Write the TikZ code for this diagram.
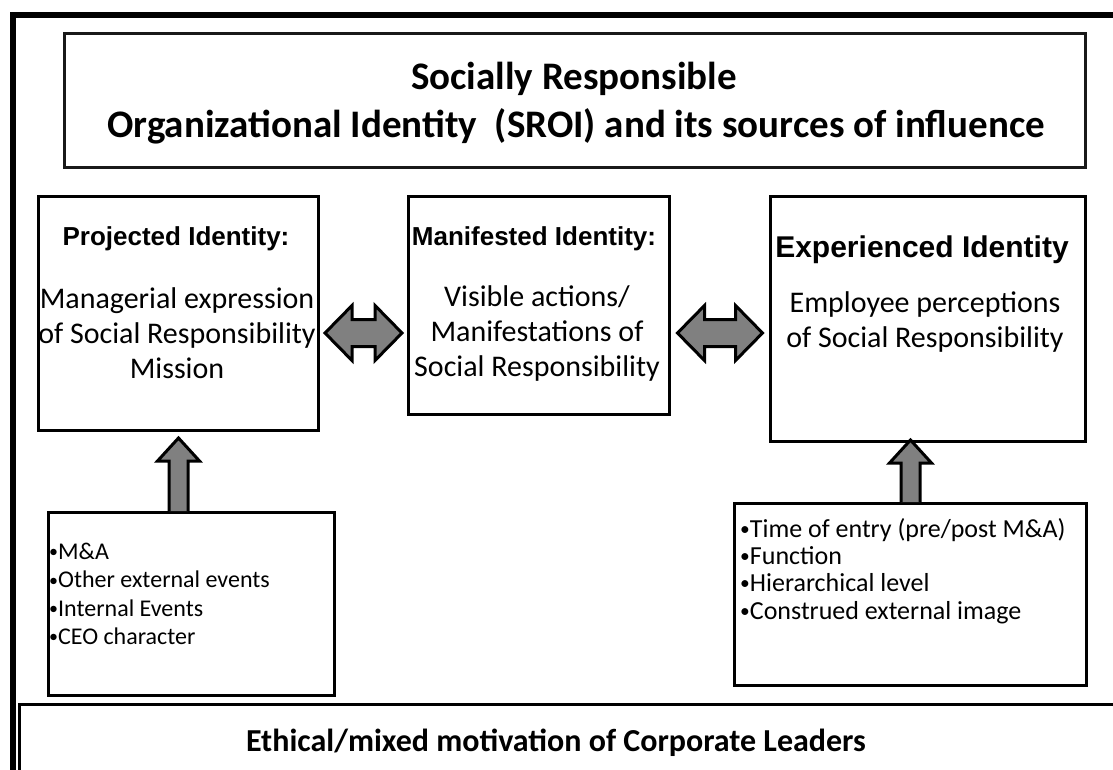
\documentclass[tikz,border=0pt]{standalone}
\usepackage{fontspec}
\setmainfont{Carlito}
\newfontfamily\headfont{Liberation Sans}
\usetikzlibrary{calc,positioning}
\definecolor{cFill}{RGB}{128,128,128}
\newcommand{\bul}{\raisebox{0.08em}{\scalebox{0.75}{•}}}
\tikzset{
	outerframe/.style={draw, line width=6pt, inner sep=0pt, anchor=north west},
	titlebox/.style={draw=black!90, line width=2.5pt, inner sep=0pt, anchor=north west},
	idbox/.style={draw, line width=3pt, inner sep=0pt, anchor=north west},
	titletxt/.style={inner sep=0pt, font=\fontsize{39}{46}\selectfont\bfseries},
	headtxt/.style={inner sep=0pt, font=\headfont\fontsize{26}{30}\selectfont\bfseries},
	bodytxt/.style={inner sep=0pt, align=center, font=\fontsize{30}{35}\selectfont},
	listtxt/.style={inner sep=0pt, align=left, anchor=west},
	blockarr/.style={draw, line width=3pt, fill=cFill, line join=miter},
	pics/dblarrow/.style={code={
		\draw[blockarr] (-#1,0) -- (-#1+27,-27.5) -- (-#1+27,-13.5) -- (#1-27,-13.5)
			-- (#1-27,-27.5) -- (#1,0) -- (#1-27,27.5) -- (#1-27,13.5)
			-- (-#1+27,13.5) -- (-#1+27,27.5) -- cycle;
	}},
	pics/uparrow/.style={code={
		\draw[blockarr] (-9.5,0) -- (-9.5,-#1+23) -- (-21,-#1+23) -- (0,-#1)
			-- (21,-#1+23) -- (9.5,-#1+23) -- (9.5,0);
	}},
}

\begin{document}
\begin{tikzpicture}[x=1pt,y=-1pt]
	\useasboundingbox (0,0) rectangle (1113,769);
	\clip (0,0) rectangle (1113,769);
	\fill[white] (0,0) rectangle (1113,769);
	% frame and bottom box run off the page
	\node[outerframe, minimum width=1140pt, minimum height=800pt] (frame) at (10,12) {};
	\node[titlebox, minimum width=1021pt, minimum height=134pt] (title) at (63,32) {};
	\node[titletxt] (titleA) at (574,79) {Socially Responsible};
	\node[titletxt] (titleB) at (576,126) {Organizational Identity~ (SROI) and its sources of influence};

	% identity boxes
	\node[idbox, minimum width=280pt, minimum height=234pt] (proj) at (37,195) {};
	\node[idbox, minimum width=261pt, minimum height=218pt] (mani) at (407,195) {};
	\node[idbox, minimum width=315pt, minimum height=245pt] (exp) at (769,195) {};
	\node[headtxt] (projhead) at (176,239) {Projected Identity:};
	\node[headtxt] (manihead) at (534,239) {Manifested Identity:};
	\node[headtxt, font=\headfont\fontsize{30}{34}\selectfont\bfseries] (exphead) at (922,250) {Experienced Identity};
	\node[bodytxt] (projtxt) at (177,333) {Managerial expression\\of Social Responsibility\\Mission};
	\node[bodytxt] (manitxt) at (537,333) {Visible actions/\\Manifestations of\\Social Responsibility};
	\node[bodytxt] (exptxt) at (925,322) {Employee perceptions\\of Social Responsibility};

	% sources of influence
	\node[idbox, minimum width=286pt, minimum height=183pt] (projsrc) at (47,511) {};
	\node[idbox, minimum width=352pt, minimum height=182pt] (expsrc) at (733,502) {};
	\node[listtxt, font=\fontsize{24}{28.3}\selectfont] (projlist) at (49,594)
		{\bul M\&A\\\bul Other external events\\\bul Internal Events\\\bul CEO character};
	\node[listtxt, font=\fontsize{26}{27.4}\selectfont] (explist) at (740,571)
		{\bul Time of entry (pre/post M\&A)\\\bul Function\\\bul Hierarchical level\\\bul Construed external image};
	\node[idbox, minimum width=1120pt, minimum height=120pt] (leaders) at (18,703) {};
	\node[titletxt, font=\fontsize{32}{38}\selectfont\bfseries] (leaderstxt) at (556,743)
		{Ethical/mixed motivation of Corporate Leaders};

	% block arrows
	\coordinate (arry) at (0,333);
	\coordinate (g1) at ($(proj.east)!0.5!(mani.west)$);
	\coordinate (g2) at ($(mani.east)!0.5!(exp.west)$);
	\pic at (g1 |- arry) {dblarrow=38.5};
	\pic at (g2 |- arry) {dblarrow=42.5};
	\pic at (projsrc.north -| proj.south) {uparrow=73};
	\pic at (expsrc.north) {uparrow=62};
\end{tikzpicture}
\end{document}
